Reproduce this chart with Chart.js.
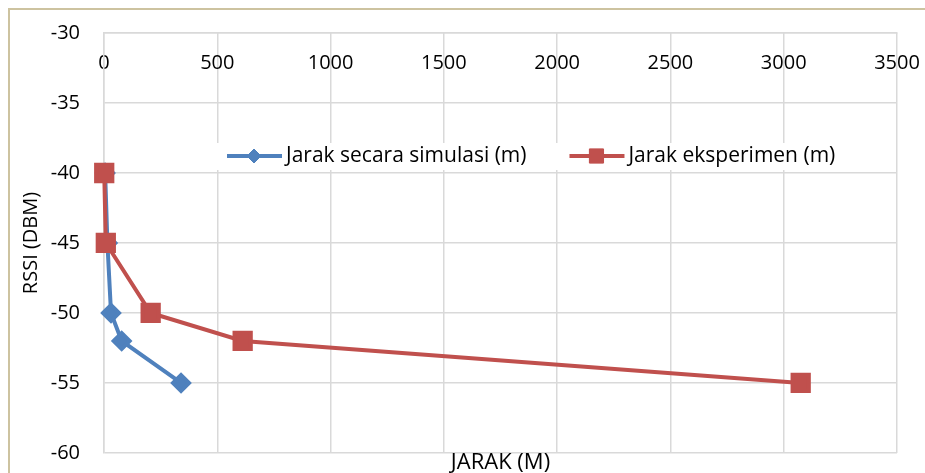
<!DOCTYPE html>
<html>
<head>
<meta charset="utf-8">
<script src="https://cdn.jsdelivr.net/npm/chart.js@4.4.1/dist/chart.umd.min.js"></script>
<style>
  body { margin: 0; background: #fff; }
  #frame { position: absolute; left: 8px; top: 8px; width: 940px; height: 490px; border: 2px solid #cdc3a0; }
  #canvas-1 { position: absolute; left: 0; top: 0; }
</style>
</head>
<body>
<div id="frame"></div>
<canvas id="canvas-1" width="925" height="473"></canvas>
<script>
// RSSI levels (dBm) shared by both series
var rssi = [-40, -45, -50, -52, -55];
// distance (m)
var jarakSimulasi = [5, 15, 31, 78, 340];
var jarakEksperimen = [1, 8, 206, 612, 3075];
var seriesNames = ['Jarak secara simulasi (m)', 'Jarak eksperimen (m)'];
var xTicks = [0, 500, 1000, 1500, 2000, 2500, 3000, 3500];
var yTicks = [-60, -55, -50, -45, -40, -35, -30];

var FONT = 'Open Sans';
var gridColor = '#d9d9d9';

function toPoints(xs, ys) {
    var pts = [];
    for (var i = 0; i < xs.length; i++) {
        pts.push({ x: xs[i], y: ys[i] });
    }
    return pts;
}

// legend drawn inside the plot, like the Excel original
var insideLegend = {
    id: 'insideLegend',
    afterDatasetsDraw: function (chart) {
        var ctx = chart.ctx;
        var area = chart.chartArea;
        var left = area.left + 110;
        var top = area.top + 110;
        ctx.save();
        ctx.fillStyle = '#fff';
        ctx.fillRect(left, top, 640, 27);
        ctx.font = '21px "' + FONT + '"';
        ctx.textBaseline = 'middle';
        var x = left + 13;
        var cy = top + 13;
        chart.data.datasets.forEach(function (ds) {
            ctx.strokeStyle = ds.borderColor;
            ctx.lineWidth = 4;
            ctx.beginPath();
            ctx.moveTo(x, cy);
            ctx.lineTo(x + 55, cy);
            ctx.stroke();
            ctx.fillStyle = ds.borderColor;
            ctx.lineWidth = 1;
            Chart.helpers.drawPoint(ctx, { pointStyle: ds.pointStyle, radius: ds.legendRadius, borderWidth: 1 }, x + 27, cy);
            ctx.fill();
            ctx.fillStyle = '#000';
            ctx.fillText(ds.label, x + 59, cy);
            x += 59 + ctx.measureText(ds.label).width + 43;
        });
        ctx.restore();
    }
};

var ctx = document.getElementById('canvas-1');
var chart = new Chart(ctx, {
    type: 'scatter',
    data: {
        datasets: [
            {
                label: seriesNames[0],
                data: toPoints(jarakSimulasi, rssi),
                order: 1,
                showLine: true,
                clip: false,
                borderColor: '#4f81bd',
                backgroundColor: '#4f81bd',
                borderWidth: 4,
                pointStyle: 'rectRot',
                pointRadius: 8,
                pointHoverRadius: 8,
                legendRadius: 7
            },
            {
                label: seriesNames[1],
                data: toPoints(jarakEksperimen, rssi),
                order: 0,
                showLine: true,
                clip: false,
                borderColor: '#c0504d',
                backgroundColor: '#c0504d',
                borderWidth: 4,
                pointStyle: 'rect',
                pointRadius: 11.5,
                pointHoverRadius: 11.5,
                legendRadius: 10
            }
        ]
    },
    options: {
        responsive: false,
        animation: false,
        layout: { padding: { left: 19, top: 33, right: 28, bottom: 0 } },
        plugins: {
            legend: { display: false },
            tooltip: { enabled: false },
            title: {
                display: true,
                text: 'JARAK (M)',
                position: 'bottom',
                fullSize: false,
                color: '#000',
                padding: 0,
                font: { family: FONT, size: 22, weight: 'normal', lineHeight: 0.91 }
            }
        },
        scales: {
            x: {
                type: 'linear',
                position: { y: -30 },
                min: xTicks[0],
                max: xTicks[xTicks.length - 1],
                afterBuildTicks: function (scale) {
                    scale.ticks = xTicks.map(function (v) { return { value: v }; });
                },
                afterFit: function (scale) {
                    scale.paddingLeft = 0;
                    scale.paddingRight = 0;
                },
                grid: { color: gridColor, lineWidth: 1.5, drawTicks: false },
                border: { color: gridColor, width: 1.5 },
                ticks: {
                    color: '#000',
                    padding: 18,
                    font: { family: FONT, size: 20 },
                    callback: function (v) { return String(v); }
                }
            },
            y: {
                min: yTicks[0],
                max: yTicks[yTicks.length - 1],
                afterBuildTicks: function (scale) {
                    scale.ticks = yTicks.map(function (v) { return { value: v }; });
                },
                afterFit: function (scale) {
                    scale.width = 85;
                    scale.paddingTop = 0;
                    scale.paddingBottom = 0;
                },
                grid: { color: gridColor, lineWidth: 1.5, drawTicks: false },
                border: { color: gridColor, width: 1.5 },
                ticks: { color: '#000', padding: 24, font: { family: FONT, size: 20 } },
                title: {
                    display: true,
                    text: 'RSSI (DBM)',
                    color: '#000',
                    padding: { top: 0, bottom: 0 },
                    font: { family: FONT, size: 20 }
                }
            }
        }
    },
    plugins: [insideLegend]
});
</script>
</body>
</html>
